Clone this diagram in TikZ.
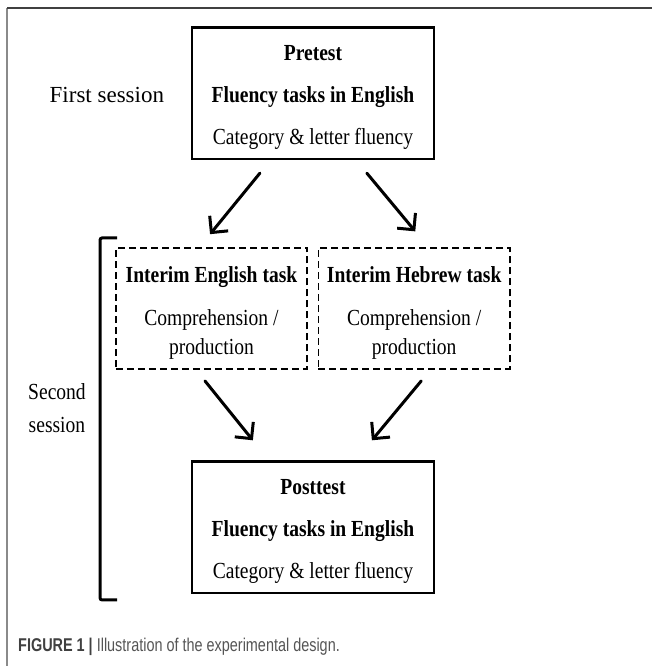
\documentclass[tikz,border=0pt]{standalone}
\usepackage{fontspec}
\setmainfont{Liberation Serif}
\newfontfamily\boxfnt[FakeStretch=0.85]{Liberation Serif}
\newfontfamily\capfnt[FakeStretch=0.78]{Liberation Sans}
\usepackage{xcolor}
\usepackage{tikz}
\usetikzlibrary{arrows.meta}
\definecolor{framegray}{HTML}{8A8A8A}
\definecolor{framedark}{HTML}{404040}
\definecolor{capgray}{HTML}{555555}
\newcommand{\topstrut}{\rule{0pt}{24bp}}
\tikzset{
  test/.style={draw, line width=2.4bp, align=center, inner sep=0pt,
               minimum width=8.54cm, minimum height=4.64cm,
               font=\boxfnt\fontsize{23bp}{29bp}\selectfont},
  interim/.style={draw, line width=1.6bp, dash pattern=on 7bp off 4bp, align=center,
                  inner sep=0pt, minimum width=6.75cm, minimum height=4.27cm,
                  font=\boxfnt\fontsize{23bp}{29bp}\selectfont},
  sess/.style={align=center, font=\fontsize{23bp}{33bp}\selectfont},
  flow/.style={-{Straight Barb[length=4.2mm, width=8.4mm]}, line width=3bp, line cap=round},
  brack/.style={line width=3bp, rounded corners=2bp}
}
\begin{document}
\begin{tikzpicture}
  \useasboundingbox (0,0) rectangle (23.0,23.495);
  % frame of the figure
  \draw[framegray, line width=1.5bp] (0.25,0) -- (0.25,23.21);
  \draw[framedark, line width=1.5bp] (0.25,23.21) -- (23.0,23.21);

  \node[test] (pre) at (11.04,20.21) {\topstrut\textbf{Pretest}\\[13bp]
     \textbf{Fluency tasks in English}\\[13bp]
     Category \& letter fluency};
  \node[interim] (eng) at (7.46,12.61) {\topstrut\textbf{Interim English task}\\[14bp]
     Comprehension /\\production};
  \node[interim] (heb) at (14.61,12.61) {\topstrut\textbf{Interim Hebrew task}\\[14bp]
     Comprehension /\\production};
  \node[test] (post) at (11.04,4.89) {\topstrut\textbf{Posttest}\\[13bp]
     \textbf{Fluency tasks in English}\\[13bp]
     Category \& letter fluency};

  \node[sess] (first) at (3.77,20.14) {First session};
  \node[sess, font=\boxfnt\fontsize{23bp}{33bp}\selectfont] (second) at (2.01,9.08) {Second\\session};
  \draw[brack] (4.13,15.10) -- (3.53,15.10) -- (3.53,2.33) -- (4.13,2.33);

  \draw[flow] ([xshift=-1.87cm,yshift=-0.46cm]pre.south) -- ([xshift=-0.05cm,yshift=0.46cm]eng.north);
  \draw[flow] ([xshift=1.9cm,yshift=-0.46cm]pre.south) -- ([xshift=0.04cm,yshift=0.56cm]heb.north);
  \draw[flow] ([xshift=-0.23cm,yshift=-0.39cm]eng.south) -- ([xshift=-2.12cm,yshift=0.71cm]post.north);
  \draw[flow] ([xshift=0.25cm,yshift=-0.39cm]heb.south) -- ([xshift=2.08cm,yshift=0.71cm]post.north);

  \node[anchor=west, inner sep=0pt, font=\capfnt\fontsize{18.5bp}{20bp}\selectfont] (cap) at (0.635,0.67)
     {\textcolor{framedark}{\textbf{FIGURE 1 |}} \textcolor{capgray}{Illustration of the experimental design.}};
\end{tikzpicture}
\end{document}
